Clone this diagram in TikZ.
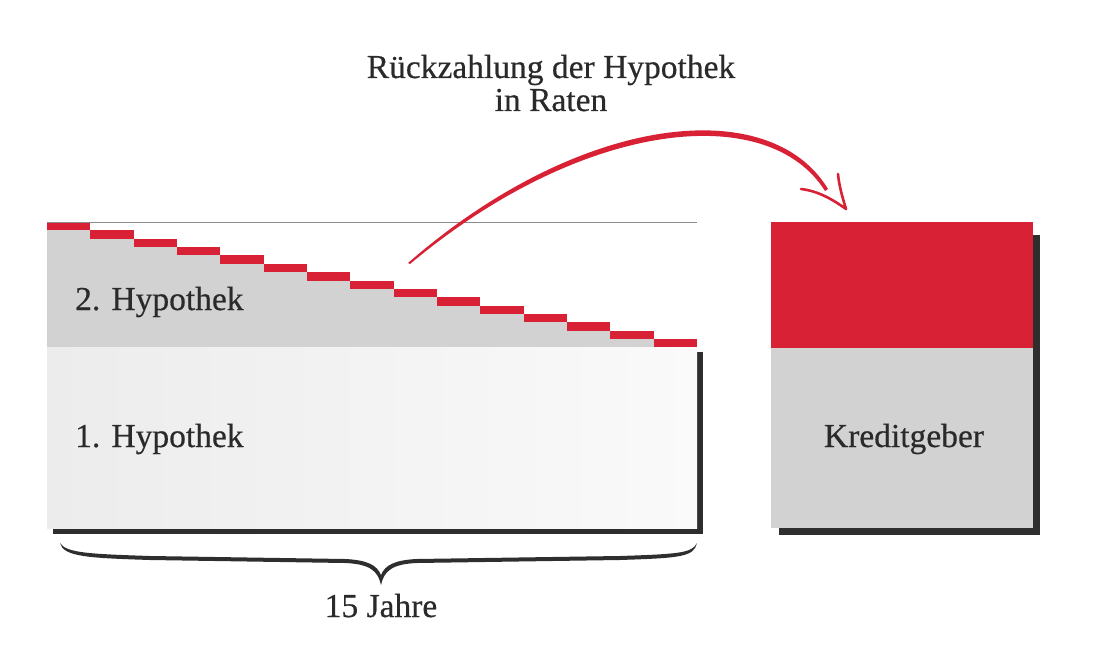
\documentclass[tikz,border=0pt]{standalone}
\usepackage{fontspec}
\setmainfont{Liberation Serif}
\newfontfamily\hfont[FakeBold=0.45]{Liberation Serif}
\definecolor{hred}{HTML}{D82135}
\definecolor{hgray}{HTML}{D2D2D2}
\definecolor{hlight}{HTML}{ECECEC}
\definecolor{hlight2}{HTML}{FAFAFA}
\definecolor{hshadow}{HTML}{2E2E2E}
\definecolor{htext}{HTML}{2A2A2A}
\definecolor{hline}{HTML}{8C8C8C}
\tikzset{
  lbl/.style={text=htext, font=\hfont\fontsize{33.5}{35}\selectfont, inner sep=0pt, anchor=base},
  shadowbar/.style={fill=hshadow, draw=none},
}
\begin{document}
\begin{tikzpicture}[x=1pt,y=-1pt]
\useasboundingbox (0,0) rectangle (1100,647);
% ---- left block ----
\fill[hgray] (47,222) rectangle (697,347);
\foreach \i in {0,...,14}{
  \pgfmathsetmacro{\xa}{47+43.3333*\i}
  \pgfmathsetmacro{\xb}{47+43.3333*(\i+1)}
  \pgfmathsetmacro{\ya}{222+8.36*\i}
  \pgfmathsetmacro{\yb}{\ya+8.4}
  \fill[white] (\xa,222) rectangle (\xb,\ya);
  \fill[hred] (\xa,\ya) rectangle (\xb,\yb);
}
\draw[hline, line width=0.9pt] (47,222) -- (697,222);
% shadows of lower block
\fill[shadowbar] (697,352) rectangle (703,534);
\fill[shadowbar] (53,528) rectangle (703,534);
\shade[left color=hlight, middle color=hlight!70!hlight2, right color=hlight2] (47,347) rectangle (697,528);
\node[lbl] (hyp2) at (75,310) [anchor=base west] {2. Hypothek};
\node[lbl] (hyp1) at (75,447) [anchor=base west] {1. Hypothek};
% ---- right block ----
\fill[shadowbar] (1033,235) rectangle (1040,535);
\fill[shadowbar] (779,528) rectangle (1040,535);
\fill[hred] (771,222) rectangle (1033,348);
\fill[hgray] (771,348) rectangle (1033,528);
\node[lbl] (kred) at (904,447) {Kreditgeber};
% ---- title ----
\node[lbl] (title1) at (551,78) {Rückzahlung der Hypothek};
\node[lbl] (title2) at (551,111) {in Raten};
% ---- arrow ----
\coordinate (astart) at (408,263);
\coordinate (aend) at (828,189);
\coordinate (atip) at (846,209);
\fill[hred] (astart) .. controls (580,113) and (770,93) .. (aend)
  -- (825,191) .. controls (768,100) and (582,120) .. (410,264) -- cycle;
\draw[hred, line width=2.6pt, line cap=round, line join=round]
  (801,189) .. controls (818,191) and (832,199) .. (atip)
  .. controls (842,196) and (839,185) .. (838,174);
% ---- brace ----
\fill[hshadow] (60,543) .. controls (63,557) and (90,558) .. (150,560)
  -- (345,563) .. controls (370,564) and (378,571) .. (381,585)
  .. controls (384,571) and (392,564) .. (417,563)
  -- (620,560) .. controls (680,558) and (694,557) .. (697,543)
  .. controls (692,553) and (680,554) .. (620,556)
  -- (417,559) .. controls (395,560) and (385,565) .. (381,575)
  .. controls (377,565) and (367,560) .. (345,559)
  -- (150,556) .. controls (90,554) and (66,553) .. (60,543) -- cycle;
\node[lbl] (years) at (381,617) {15 Jahre};
\end{tikzpicture}
\end{document}
